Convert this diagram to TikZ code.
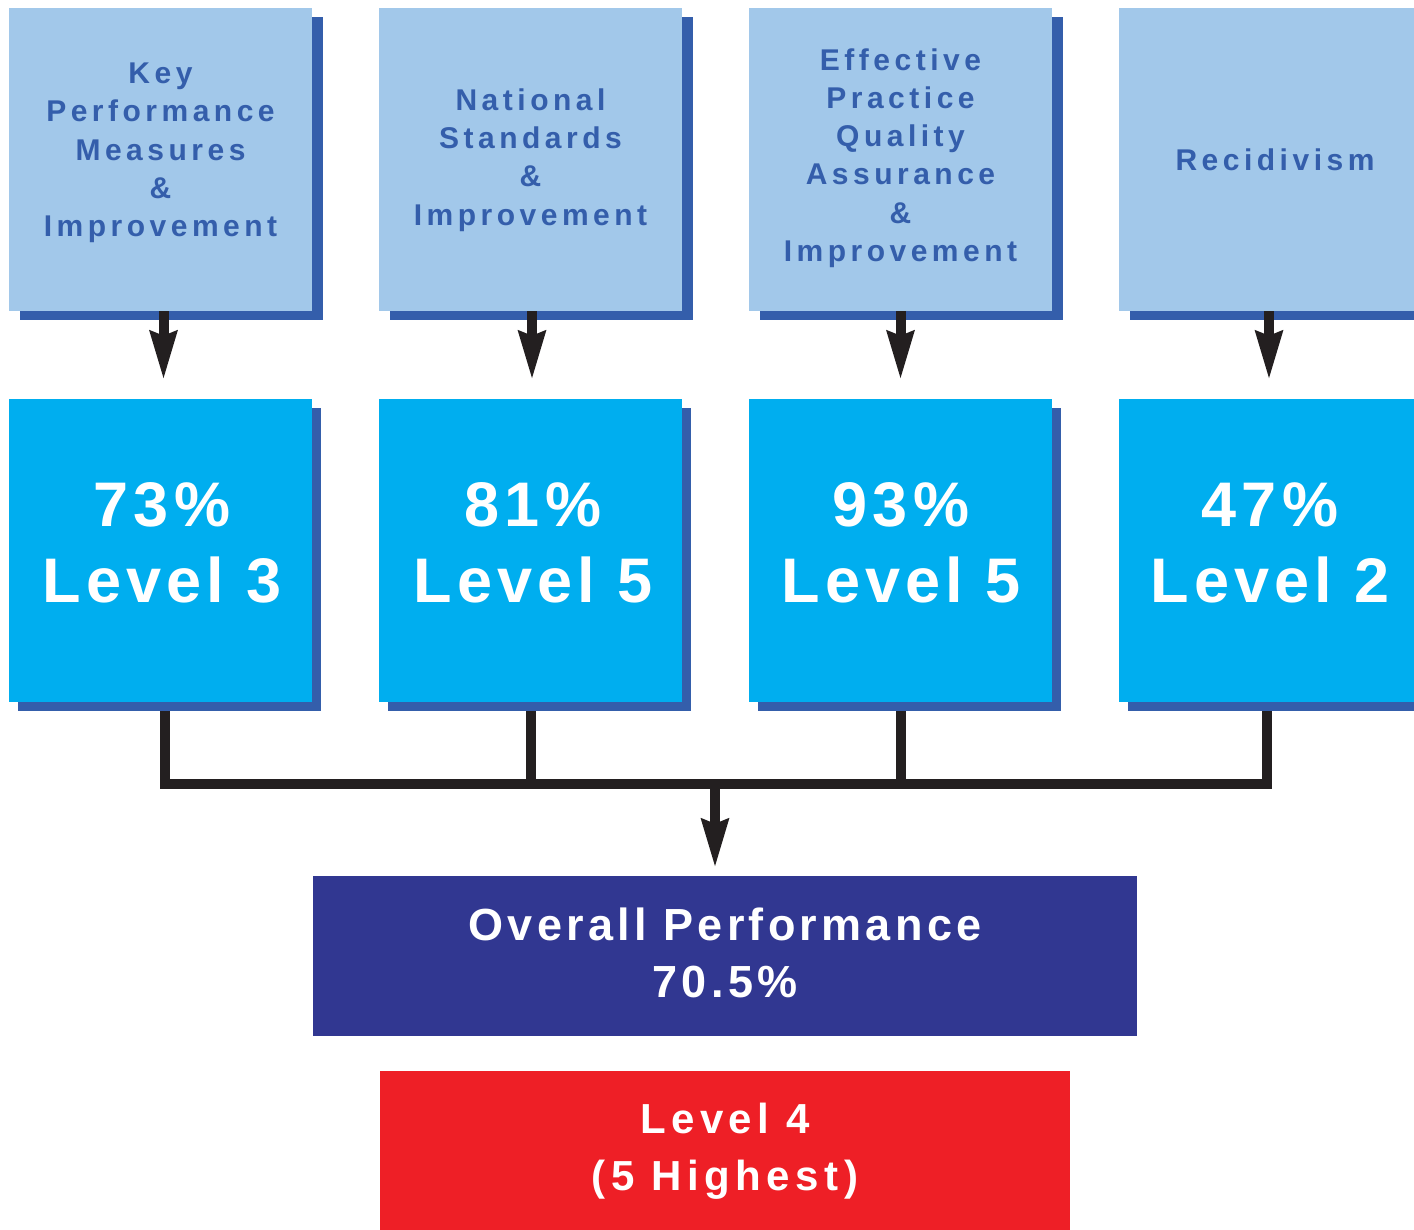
\documentclass[tikz,border=0pt]{standalone}
\usepackage{fontspec}
\setmainfont{Liberation Sans}
\newfontfamily\fTop[LetterSpace=15]{Liberation Sans}
\newfontfamily\fLvl[LetterSpace=8]{Liberation Sans}
\newfontfamily\fOv[LetterSpace=9.5]{Liberation Sans}
\newfontfamily\fRed[LetterSpace=13]{Liberation Sans}
\usetikzlibrary{arrows.meta,shadows,calc}
\definecolor{lightbox}{HTML}{A2C8EA}
\definecolor{shadowblue}{HTML}{345EAB}
\definecolor{cyanbox}{HTML}{00AEEF}
\definecolor{darkbox}{HTML}{313791}
\definecolor{redbox}{HTML}{EE1F26}
\definecolor{arrowblack}{HTML}{231F20}
\pgfdeclarelayer{bg}
\pgfsetlayers{bg,main}
\tikzset{
  topbox/.style={rectangle, draw=none, fill=lightbox, inner sep=0pt,
    minimum width=303pt, minimum height=303pt,
    general shadow={fill=shadowblue, shadow xshift=11pt, shadow yshift=-9pt}},
  lvlbox/.style={rectangle, draw=none, fill=cyanbox, inner sep=0pt,
    minimum width=303pt, minimum height=303pt,
    general shadow={fill=shadowblue, shadow xshift=9pt, shadow yshift=-9pt}},
  toptext/.style={text=shadowblue, align=center, inner sep=0pt,
    font={\fTop\bfseries\fontsize{30}{38.3}\selectfont}},
  lvltext/.style={text=white, align=center, inner sep=0pt,
    font={\fLvl\bfseries\fontsize{63}{76}\selectfont}},
  ovbox/.style={rectangle, draw=none, fill=darkbox, inner sep=0pt,
    minimum width=824pt, minimum height=160pt},
  ovtext/.style={text=white, align=center, inner sep=0pt,
    font={\fOv\bfseries\fontsize{45}{57}\selectfont}},
  redrect/.style={rectangle, draw=none, fill=redbox, inner sep=0pt,
    minimum width=690pt, minimum height=160pt},
  redtext/.style={text=white, align=center, inner sep=0pt,
    font={\fRed\bfseries\fontsize{42}{57}\selectfont}},
  arr/.style={draw=arrowblack, line width=10pt,
    -{Stealth[length=48pt, width=26pt, inset=4pt, fill=arrowblack]}},
  conn/.style={draw=arrowblack, line width=10pt, line join=miter}
}
\begin{document}
\begin{tikzpicture}[x=1pt,y=-1pt]
\clip (0,0) rectangle (1414,1230);
\begin{pgfonlayer}{bg}
\fill[white] (0,0) rectangle (1414,1230);
\end{pgfonlayer}
% top boxes
\node[topbox] (t1) at (160.5,159.5) {};
\node[topbox] (t2) at (530.5,159.5) {};
\node[topbox] (t3) at (900.5,159.5) {};
\node[topbox] (t4) at (1270.5,159.5) {};
\node[toptext] (k1) at (160.5,153) {Key\\Performance\\Measures\\\&\\Improvement};
\node[toptext] (k2) at (530.5,160) {National\\Standards\\\&\\Improvement};
\node[toptext] (k3) at (900.5,158) {Effective\\Practice\\Quality\\Assurance\\\&\\Improvement};
\node[toptext] (k4) at (1275,160) {Recidivism};
% level boxes
\node[lvlbox] (l1) at (160.5,550.5) {};
\node[lvlbox] (l2) at (530.5,550.5) {};
\node[lvlbox] (l3) at (900.5,550.5) {};
\node[lvlbox] (l4) at (1270.5,550.5) {};
\node[lvltext] (v1) at (162,542.5) {73\%\\Level 3};
\node[lvltext] (v2) at (533,542.5) {81\%\\Level 5};
\node[lvltext] (v3) at (901,542.5) {93\%\\Level 5};
\node[lvltext] (v4) at (1270,542.5) {47\%\\Level 2};
% overall and rating
\node[ovbox] (ov) at (725,956) {};
\node[ovtext] (ovt) at (725,952.5) {Overall Performance\\70.5\%};
\node[redrect] (rd) at (725,1151) {};
\node[redtext] (rdt) at (725,1151) {Level 4\\(5 Highest)};
% arrows from top boxes
\draw[arr] ([xshift=3pt]t1.south) -- ($([xshift=3pt]l1.north)+(0,-19)$);
\draw[arr] ([xshift=1.5pt]t2.south) -- ($([xshift=1.5pt]l2.north)+(0,-19)$);
\draw[arr] (t3.south) -- ($(l3.north)+(0,-19)$);
\draw[arr] ([xshift=-1.5pt]t4.south) -- ($([xshift=-1.5pt]l4.north)+(0,-19)$);
% collecting connector
\coordinate (j) at (715,784);
\begin{pgfonlayer}{bg}
\draw[conn] ([xshift=4pt]l1.south) |- (j) -| ([xshift=-4pt]l4.south);
\draw[conn] (l2.south) -- (l2.south |- j);
\draw[conn] (l3.south) -- (l3.south |- j);
\end{pgfonlayer}
\draw[arr] (j) -- ($(ov.north -| j)+(0,-8)$);
\end{tikzpicture}
\end{document}
